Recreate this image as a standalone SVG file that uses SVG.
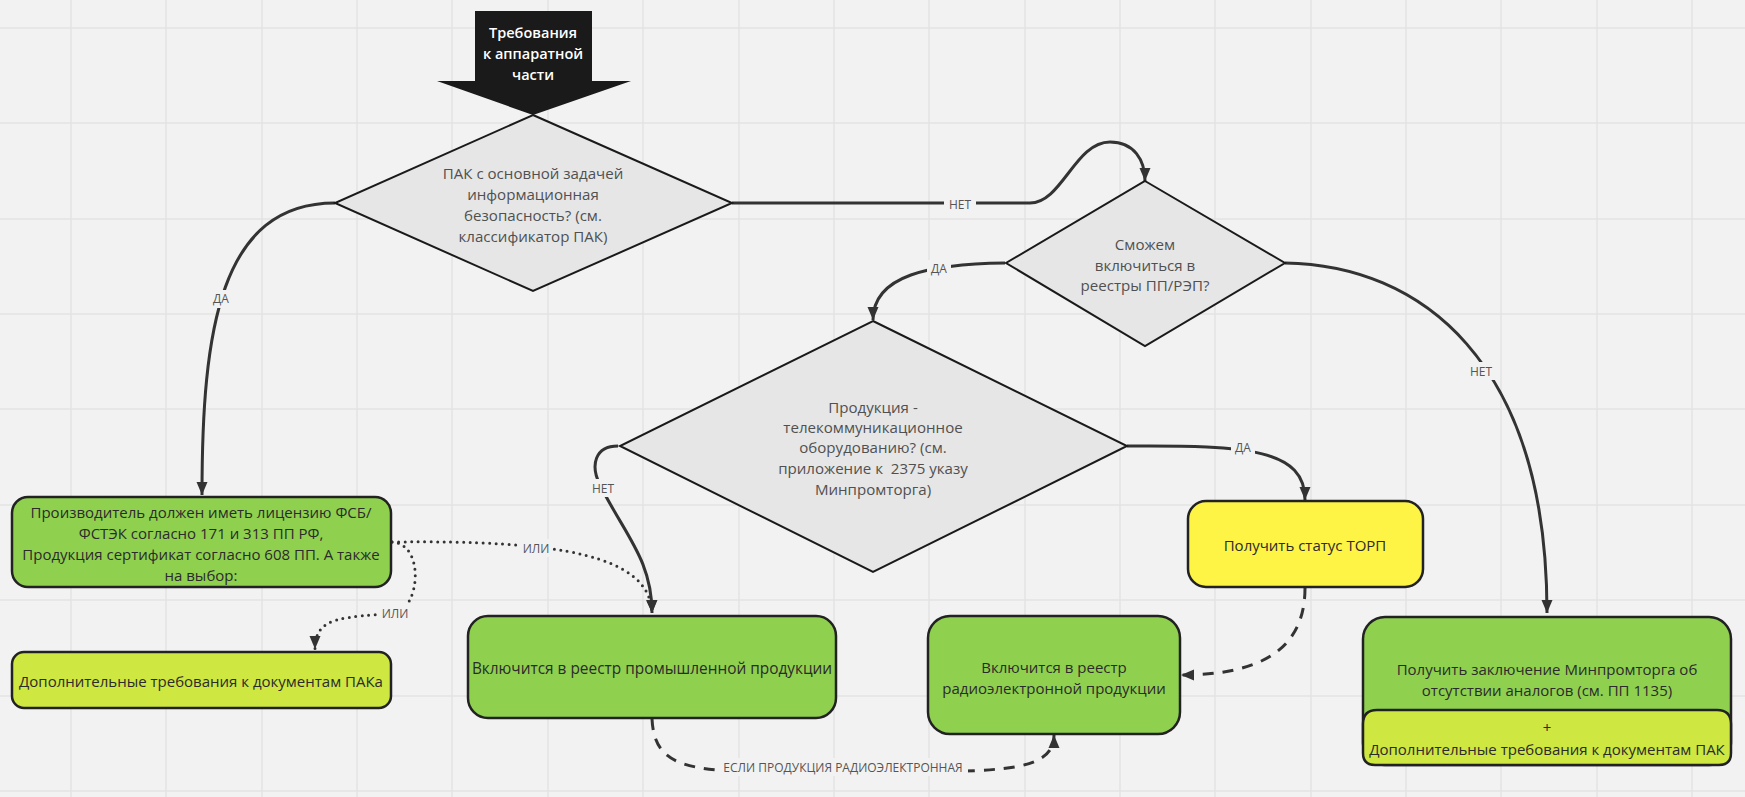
<svg xmlns="http://www.w3.org/2000/svg" width="1745" height="797" viewBox="0 0 1745 797">
<style>
text{font-family:"Open Sans","Noto Sans","DejaVu Sans",sans-serif;text-anchor:middle;dominant-baseline:central}
.q{fill:#e6e6e6;stroke:#1a1a1a;stroke-width:2}
.qt{font-size:15.1px;fill:#505050}
.bt{font-size:15px;fill:#2b2b2b}
.box{stroke:#222;stroke-width:2.5}
.green{fill:#8fd14f}
.lime{fill:#cee741}
.yellow{fill:#fef445}
.c{fill:none;stroke:#333;stroke-width:3;marker-end:url(#ah)}
.dot{stroke-dasharray:0 6.5;stroke-linecap:round}
.dash{stroke-dasharray:11 9}
.lbg{fill:#f2f2f2}
.lt{font-size:12px;fill:#555}
.grid{stroke:#e3e3e3;stroke-width:1.5;fill:none}
</style>
<defs>
<marker id="ah" markerUnits="userSpaceOnUse" markerWidth="14" markerHeight="12" refX="13" refY="6" orient="auto">
<path d="M0,0.5 L13,6 L0,11.5 z" fill="#333"/>
</marker>
</defs>
<rect x="0" y="0" width="1745" height="797" fill="#f2f2f2"/>
<path class="grid" d="M71,0V797M166,0V797M262,0V797M357,0V797M452,0V797M548,0V797M643,0V797M739,0V797M834,0V797M929,0V797M1025,0V797M1120,0V797M1215,0V797M1311,0V797M1406,0V797M1501,0V797M1597,0V797M1692,0V797M0,28H1745M0,123H1745M0,219H1745M0,314H1745M0,409H1745M0,505H1745M0,600H1745M0,696H1745M0,791H1745"/>

<g id="connectors">
<path class="c" d="M732,203 L1030,203 C1062,203 1075,142 1110,142 C1134,142 1145,160 1145,181"/>
<path class="c" d="M335,203 C220,203 202,330 202,495"/>
<path class="c" d="M1005,263 C930,264 873,275 873,320"/>
<path class="c" d="M1285,263 C1420,265 1547,360 1547,613"/>
<path class="c" d="M1127,446 C1250,445 1305,450 1305,500"/>
<path class="c" d="M618,446 C595,446 590,465 600,485 C625,535 652,560 652,613"/>
<path class="c dot" d="M392,542 C560,540 650,555 652,613"/>
<path class="c dot" d="M392,542 C425,544 420,608 395,613 C345,618 315,615 315,649"/>
<path class="c dash" d="M652,719 C655,776 700,772 843,772 C990,771 1054,776 1054,735"/>
<path class="c dash" d="M1305,588 C1305,650 1260,675 1181,675"/>
<g id="labels">
<rect class="lbg" x="944" y="195" width="32" height="18"/><text class="lt" x="960" y="204">НЕТ</text>
<rect class="lbg" x="209" y="290" width="24" height="18"/><text class="lt" x="221" y="298">ДА</text>
<rect class="lbg" x="927" y="260" width="24" height="18"/><text class="lt" x="939" y="268">ДА</text>
<rect class="lbg" x="1465" y="362" width="32" height="18"/><text class="lt" x="1481" y="371">НЕТ</text>
<rect class="lbg" x="1231" y="438" width="24" height="18"/><text class="lt" x="1243" y="447">ДА</text>
<rect class="lbg" x="587" y="479" width="32" height="18"/><text class="lt" x="603" y="488">НЕТ</text>
<rect class="lbg" x="520" y="539" width="32" height="18"/><text class="lt" x="536" y="548">ИЛИ</text>
<rect class="lbg" x="379" y="604" width="32" height="18"/><text class="lt" x="395" y="613">ИЛИ</text>
<rect class="lbg" x="718" y="758" width="250" height="18"/><text class="lt" x="843" y="767">ЕСЛИ ПРОДУКЦИЯ РАДИОЭЛЕКТРОННАЯ</text>
</g>
</g>

<g id="start">
<polygon points="475,11 592,11 592,81 631,81 533,115 437,81 475,81" fill="#1a1a1a"/>
<text x="533" y="32" style="font-size:14.5px;font-weight:600;fill:#ffffff">Требования</text>
<text x="533" y="53" style="font-size:14.5px;font-weight:600;fill:#ffffff">к аппаратной</text>
<text x="533" y="74" style="font-size:14.5px;font-weight:600;fill:#ffffff">части</text>
</g>

<g id="q1">
<polygon class="q" points="533,115 732,203 533,291 335,203"/>
<text class="qt" x="533" y="173">ПАК с основной задачей</text>
<text class="qt" x="533" y="194">информационная</text>
<text class="qt" x="533" y="215">безопасность? (см.</text>
<text class="qt" x="533" y="236">классификатор ПАК)</text>
</g>

<g id="q2">
<polygon class="q" points="1145,181 1285,263 1145,346 1006,263"/>
<text class="qt" x="1145" y="244">Сможем</text>
<text class="qt" x="1145" y="265">включиться в</text>
<text class="qt" x="1145" y="285">реестры ПП/РЭП?</text>
</g>

<g id="q3">
<polygon class="q" points="873,321 1127,446 873,572 620,446"/>
<text class="qt" x="873" y="407">Продукция -</text>
<text class="qt" x="873" y="427">телекоммуникационное</text>
<text class="qt" x="873" y="447">оборудованию? (см.</text>
<text class="qt" x="873" y="468" xml:space="preserve">приложение к  2375 указу</text>
<text class="qt" x="873" y="489">Минпромторга)</text>
</g>

<g id="license">
<rect class="box green" x="12" y="497" width="379" height="90" rx="16"/>
<text class="bt" x="201" y="512">Производитель должен иметь лицензию ФСБ/</text>
<text class="bt" x="201" y="533">ФСТЭК согласно 171 и 313 ПП РФ,</text>
<text class="bt" x="201" y="554">Продукция сертификат согласно 608 ПП. А также</text>
<text class="bt" x="201" y="575">на выбор:</text>
</g>

<g id="docs">
<rect class="box lime" x="12" y="652" width="379" height="56" rx="12"/>
<text class="bt" x="201" y="681">Дополнительные требования к документам ПАКа</text>
</g>

<g id="pp">
<rect class="box green" x="468" y="616" width="368" height="102" rx="20"/>
<text class="bt" x="652" y="668" style="font-size:15.4px">Включится в реестр промышленной продукции</text>
</g>

<g id="rep">
<rect class="box green" x="928" y="616" width="252" height="118" rx="22"/>
<text class="bt" x="1054" y="667">Включится в реестр</text>
<text class="bt" x="1054" y="688">радиоэлектронной продукции</text>
</g>

<g id="torp">
<rect class="box yellow" x="1188" y="501" width="235" height="86" rx="18"/>
<text class="bt" x="1305" y="545">Получить статус ТОРП</text>
</g>

<g id="mpt">
<rect class="box green" x="1363" y="617" width="368" height="148" rx="22"/>
<path class="box lime" d="M1363,724 Q1363,710 1377,710 H1717 Q1731,710 1731,724 V753 Q1731,765 1719,765 H1375 Q1363,765 1363,753 Z"/>
<text class="bt" x="1547" y="669">Получить заключение Минпромторга об</text>
<text class="bt" x="1547" y="690">отсутствии аналогов (см. ПП 1135)</text>
<text class="bt" x="1547" y="727">+</text>
<text class="bt" x="1547" y="749">Дополнительные требования к документам ПАК</text>
</g>
</svg>
